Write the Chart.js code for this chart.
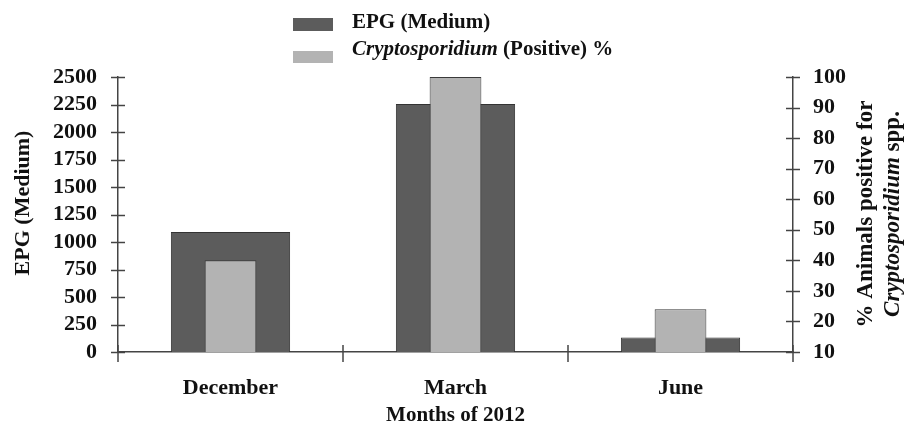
<!DOCTYPE html>
<html>
<head>
<meta charset="utf-8">
<script src="https://cdn.jsdelivr.net/npm/chart.js@4/dist/chart.umd.min.js"></script>
<style>
  html, body { margin: 0; padding: 0; background: #ffffff; }
  #wrap { width: 906px; height: 428px; position: relative; }
</style>
</head>
<body>
<div id="wrap"><canvas id="c" width="906" height="428"></canvas></div>
<script>
// ---- data ----
const categories = ['December', 'March', 'June'];
const epgMedian = [1090, 2255, 132];
const cryptoPositive = [40, 100, 24];
const epgLabel = 'EPG (Medium)';
const cryptoLabel = 'Cryptosporidium (Positive) %';
const leftAxisTitle = 'EPG (Medium)';
const rightAxisTitle1 = '% Animals positive for';
const rightAxisTitle2 = ['Cryptosporidium', ' spp.'];
const xAxisTitle = 'Months of 2012';

const darkGray = '#5c5c5c';
const lightGray = '#b3b3b3';
const axisColor = '#444444';
const textColor = '#111111';
const FONT = "'Liberation Serif', 'Times New Roman', serif";

function drawMixed(ctx, parts, x, y, rot, align) {
  ctx.save();
  ctx.translate(x, y);
  ctx.rotate(rot);
  ctx.textBaseline = 'middle';
  ctx.textAlign = 'left';
  let total = 0;
  parts.forEach(p => { ctx.font = p.font; total += ctx.measureText(p.text).width; });
  let cx = align === 'left' ? 0 : -total / 2;
  parts.forEach(p => {
    ctx.font = p.font;
    ctx.fillStyle = textColor;
    ctx.fillText(p.text, cx, 0);
    cx += ctx.measureText(p.text).width;
  });
  ctx.restore();
}

const decorations = {
  id: 'decorations',
  afterDraw(chart) {
    const ctx = chart.ctx;
    const {x, y, y1} = chart.scales;
    const area = chart.chartArea;
    ctx.save();
    ctx.strokeStyle = axisColor;
    ctx.lineWidth = 1.5;
    y.ticks.forEach(t => {
      const py = Math.round(y.getPixelForValue(t.value)) + 0.5;
      ctx.beginPath(); ctx.moveTo(area.left - 7, py); ctx.lineTo(area.left + 7, py); ctx.stroke();
    });
    y1.ticks.forEach(t => {
      const py = Math.round(y1.getPixelForValue(t.value)) + 0.5;
      ctx.beginPath(); ctx.moveTo(area.right - 7, py); ctx.lineTo(area.right + 7, py); ctx.stroke();
    });
    const n = categories.length;
    for (let i = 0; i <= n; i++) {
      const px = i === 0 ? area.left : (i === n ? area.right :
        (x.getPixelForValue(i - 1) + x.getPixelForValue(i)) / 2);
      ctx.beginPath(); ctx.moveTo(px, area.bottom - 7); ctx.lineTo(px, area.bottom + 10); ctx.stroke();
    }
    ctx.restore();

    // Legend
    const ds = chart.data.datasets;
    const legendRows = [
      {box: [293, 18, 40, 13], color: ds[0].backgroundColor, ty: 23,
       parts: [{text: epgLabel, font: `bold 21px ${FONT}`}]},
      {box: [293, 51, 40, 12], color: ds[1].backgroundColor, ty: 50,
       parts: [{text: 'Cryptosporidium', font: `italic bold 21px ${FONT}`},
               {text: cryptoLabel.replace('Cryptosporidium', ''), font: `bold 21px ${FONT}`}]}
    ];
    legendRows.forEach(r => {
      ctx.save();
      ctx.fillStyle = r.color;
      ctx.fillRect(...r.box);
      ctx.restore();
      drawMixed(ctx, r.parts, 352, r.ty, 0, 'left');
    });

    drawMixed(ctx, [{text: leftAxisTitle, font: `bold 22px ${FONT}`}], 23, 203, -Math.PI / 2, 'center');
    drawMixed(ctx, [{text: rightAxisTitle1, font: `bold 23px ${FONT}`}], 866, 214, -Math.PI / 2, 'center');
    drawMixed(ctx, [{text: rightAxisTitle2[0], font: `italic bold 23px ${FONT}`},
                    {text: rightAxisTitle2[1], font: `bold 23px ${FONT}`}], 893, 214, -Math.PI / 2, 'center');
  }
};

const tickFont = { family: FONT, size: 22, weight: 'bold' };

new Chart(document.getElementById('c'), {
  type: 'bar',
  data: {
    labels: categories,
    datasets: [
      {
        label: epgLabel,
        data: epgMedian,
        yAxisID: 'y',
        backgroundColor: darkGray,
        borderColor: '#333333',
        borderWidth: 1,
        grouped: false,
        categoryPercentage: 1,
        barPercentage: 0.53,
        order: 2
      },
      {
        label: cryptoLabel,
        data: cryptoPositive,
        yAxisID: 'y1',
        backgroundColor: lightGray,
        borderColor: '#3a3a3a',
        borderWidth: 1,
        grouped: false,
        categoryPercentage: 1,
        barPercentage: 0.23,
        order: 1
      }
    ]
  },
  options: {
    responsive: false,
    animation: false,
    layout: { padding: { top: 77, left: 0, right: 0, bottom: 0 } },
    plugins: {
      legend: { display: false },
      title: { display: false },
      tooltip: { enabled: false }
    },
    scales: {
      x: {
        type: 'category',
        offset: true,
        grid: { display: false, drawTicks: false },
        border: { display: true, color: axisColor, width: 1.5 },
        ticks: { color: textColor, font: tickFont, padding: 23 },
        title: { display: true, text: xAxisTitle, color: textColor,
                 font: { family: FONT, size: 21, weight: 'bold' }, padding: { top: 0, bottom: 0 } },
        afterFit(s) { s.height = 76; }
      },
      y: {
        position: 'left',
        min: 0, max: 2500,
        ticks: { stepSize: 250, autoSkip: false, color: textColor, font: tickFont, padding: 21,
                 callback: v => String(v) },
        grid: { display: false, drawTicks: false },
        border: { display: true, color: axisColor, width: 1.5 },
        afterFit(s) { s.width = 118; }
      },
      y1: {
        position: 'right',
        min: 10, max: 100,
        ticks: { stepSize: 10, autoSkip: false, color: textColor, font: tickFont, padding: 20,
                 callback: v => String(v) },
        grid: { display: false, drawTicks: false },
        border: { display: true, color: axisColor, width: 1.5 },
        afterFit(s) { s.width = 113; }
      }
    }
  },
  plugins: [decorations]
});
</script>
</body>
</html>
